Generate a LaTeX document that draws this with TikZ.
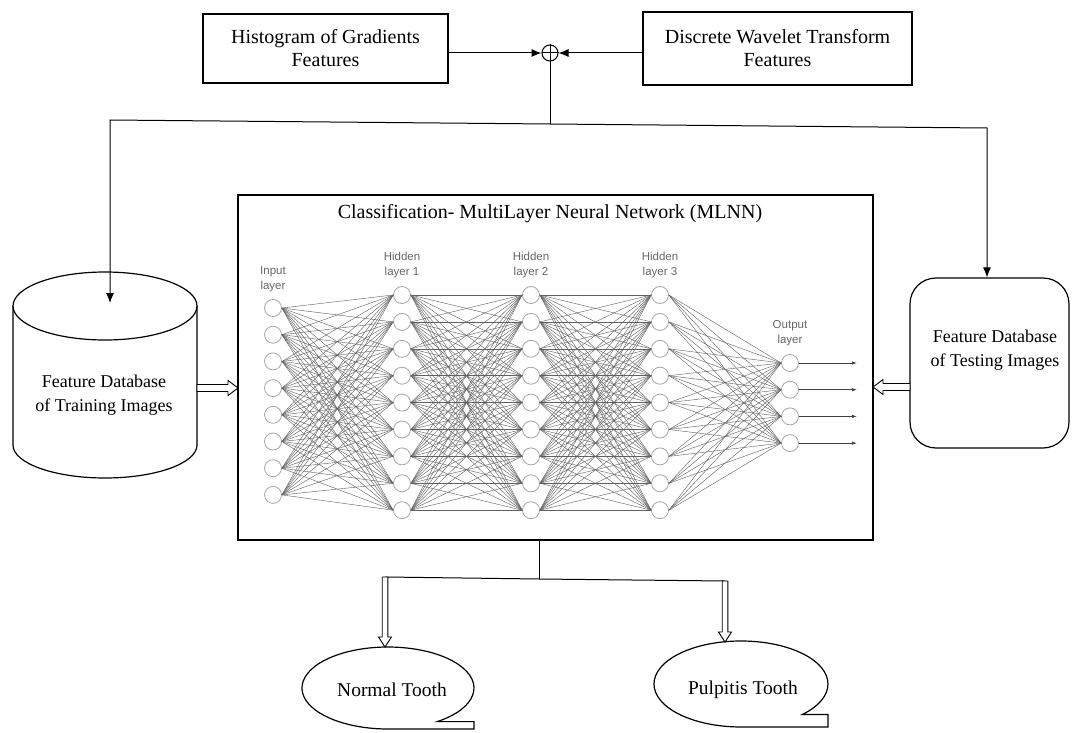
\documentclass[tikz,border=0pt]{standalone}
\usepackage{fontspec}
\setmainfont{Liberation Serif}
\newfontfamily\nnfont{Liberation Sans}
\usetikzlibrary{calc,arrows.meta}
\begin{document}
\begin{tikzpicture}[x=1pt,y=-1pt,
  box/.style={draw, line width=1.2pt, align=center, inner sep=0pt},
  lbl/.style={align=center, font=\rmfamily\fontsize{20}{23}\selectfont},
  dblbl/.style={align=center, font=\rmfamily\fontsize{18}{24}\selectfont},
  conn/.style={line width=1pt},
  arr/.style={-{Latex[length=10pt,width=8pt]}},
  nn/.style={circle, draw=gray!70, fill=white, line width=0.8pt, minimum size=17pt, inner sep=0pt},
  nnedge/.style={draw=black!62, line width=0.42pt},
  nnlbl/.style={align=center, font=\nnfont\fontsize{11.5}{15.5}\selectfont, text=black!60},
  blockarrow/.style 2 args={draw, fill=white, line width=0.9pt, line join=miter,
    to path={
      ($(\tikztostart)!#1pt!90:(\tikztotarget)$) --
      ($(\tikztotarget)!10pt!(\tikztostart)!#1pt!-90:(\tikztostart)$) --
      ($(\tikztotarget)!10pt!(\tikztostart)!#2pt!-90:(\tikztostart)$) --
      (\tikztotarget) --
      ($(\tikztotarget)!10pt!(\tikztostart)!#2pt!90:(\tikztostart)$) --
      ($(\tikztotarget)!10pt!(\tikztostart)!#1pt!90:(\tikztostart)$) --
      ($(\tikztostart)!#1pt!-90:(\tikztotarget)$) -- cycle}}
]
\useasboundingbox (0,0) rectangle (1072,733);

% top feature boxes
\node[box, lbl, minimum width=245pt, minimum height=69pt] (hog) at (325.5,48.5) {Histogram of Gradients\\Features};
\node[box, lbl, minimum width=269pt, minimum height=73pt] (dwt) at (777.5,48.5) {Discrete Wavelet Transform\\Features};

% oplus
\node[circle, draw, line width=1pt, minimum size=16pt, inner sep=0pt] (ox) at (550,53) {};
\draw[line width=1pt] (ox.north) -- (ox.south) (ox.west) -- (ox.east);
\draw[conn, arr] (hog.east |- ox.west) -- (ox.west);
\draw[conn, arr] (dwt.west |- ox.east) -- (ox.east);

% training database (cylinder)
\draw[line width=1.2pt] (13,306) -- (13,445) arc[start angle=180, end angle=0, x radius=92, y radius=33] -- (197,306);
\draw[line width=1.2pt] (105,306) ellipse[x radius=92, y radius=34];
\node[minimum width=184pt, minimum height=206pt, inner sep=0pt] (train) at (105,375) {};
\node[dblbl] (traintxt) at (104,395) {Feature Database\\of Training Images};
\coordinate (trainTop) at (110,303);

% testing database
\node[draw, line width=1.2pt, rounded corners=26pt, minimum width=159pt, minimum height=170pt] (test) at (989.5,363) {};
\node[dblbl] (testtxt) at (995,350) {Feature Database\\of Testing Images};

% distribution lines
\coordinate (J) at (550,124);
\coordinate (L) at (110,120);
\coordinate (R) at (987,128);
\draw[conn] (ox.south) -- (J);
\draw[conn, arr] (J) -- (L) -- (trainTop);
\draw[conn, arr] (J) -- (R) -- (R |- test.north);

% classification box
\node[draw, line width=1.2pt, minimum width=635pt, minimum height=345pt] (mlnn) at (555.5,367.5) {};
\node[font=\rmfamily\fontsize{20}{23}\selectfont] (title) at (550,214) {Classification- MultiLayer Neural Network (MLNN)};

% neural network
\foreach \i in {0,...,7} \node[nn] (n0-\i) at (273,{308+26.7*\i}) {};
\foreach \l/\x in {1/402,2/531,3/660} {
  \foreach \i in {0,...,8} \node[nn] (n\l-\i) at (\x,{295+26.9*\i}) {};
}
\foreach \i in {0,...,3} \node[nn] (n4-\i) at (790,{363+26.7*\i}) {};
\foreach \i in {0,...,7} \foreach \j in {0,...,8} \draw[nnedge] (n0-\i.east) -- (n1-\j.west);
\foreach \a/\b in {1/2,2/3} {
  \foreach \i in {0,...,8} \foreach \j in {0,...,8} \draw[nnedge] (n\a-\i.east) -- (n\b-\j.west);
}
\foreach \i in {0,...,8} \foreach \j in {0,...,3} \draw[nnedge] (n3-\i.east) -- (n4-\j.west);
\foreach \i in {0,...,3} \draw[line width=0.7pt, black!75, -{Latex[length=5pt,width=3.5pt]}] (n4-\i.east) -- ++(58,0);
\node[nnlbl] (lin) at (273,279) {Input\\layer};
\node[nnlbl] (lh1) at (402,265) {Hidden\\layer 1};
\node[nnlbl] (lh2) at (531,265) {Hidden\\layer 2};
\node[nnlbl] (lh3) at (660,265) {Hidden\\layer 3};
\node[nnlbl] (lout) at (790,333) {Output\\layer};

% side block arrows
\coordinate (a1) at (197,388);
\coordinate (a1e) at (238,388);
\path[blockarrow={3.5}{7.5}] (a1) to (a1e);
\coordinate (a2) at (910,387);
\coordinate (a2e) at (873,387);
\path[blockarrow={3.5}{7.5}] (a2) to (a2e);

% outputs
\node[font=\rmfamily\fontsize{19.5}{23}\selectfont] (nt) at (392,690) {Normal Tooth};
\node[font=\rmfamily\fontsize{19.5}{23}\selectfont] (pt) at (743,690) {Pulpitis Tooth};
\draw[line width=1.2pt] (437.3,721.6) arc[start angle=55, end angle=-270, x radius=86, y radius=41] -- (474,729) -- (474,721.6) -- cycle;
\draw[line width=1.2pt] (802.5,714.4) arc[start angle=45, end angle=-270, x radius=87, y radius=43] -- (828,727) -- (828,714.4) -- cycle;

\coordinate (bj) at (539,579);
\coordinate (bl) at (385,577);
\coordinate (br) at (725,581);
\coordinate (blT) at (385,647);
\coordinate (brT) at (725,642);
\draw[conn] (bj |- mlnn.south) -- (bj);
\draw[conn] (bl) -- (bj) -- (br);
\path[blockarrow={2.8}{6.5}] (bl) to (blT);
\path[blockarrow={2.8}{6.5}] (br) to (brT);
\end{tikzpicture}
\end{document}
